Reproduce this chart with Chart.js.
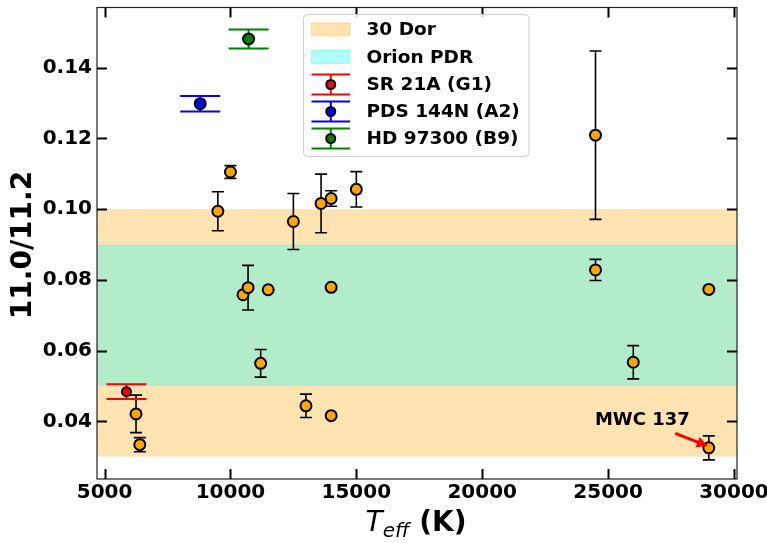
<!DOCTYPE html>
<html>
<head>
<meta charset="utf-8">
<script src="https://cdn.jsdelivr.net/npm/chart.js@4.4.1/dist/chart.umd.min.js"></script>
<style>
  html, body { margin: 0; padding: 0; background: #fff; }
</style>
</head>
<body>
<canvas id="chart" width="767" height="543"></canvas>
<script>
// sample of Herbig stars: effective temperature vs 11.0/11.2 band ratio
const tempK = [6250, 6400, 9500, 10000, 10500, 10700, 11500, 11200, 12500, 13000,
               13600, 14000, 14000, 14000, 15000, 24500, 24500, 26000, 29000, 29000];
const ratio = [0.0421, 0.0334, 0.0994, 0.1105, 0.0758, 0.0778, 0.0772, 0.0564, 0.0965, 0.0444,
               0.1016, 0.1030, 0.0779, 0.0416, 0.1056, 0.1209, 0.0828, 0.0567, 0.0773, 0.0325];
const ratioErr = [0.0053, 0.0020, 0.0055, 0.0018, 0, 0.0063, 0, 0.0039, 0.0079, 0.0033,
                  0.0083, 0.0022, 0, 0, 0.0050, 0.0238, 0.0030, 0.0047, 0, 0.0034];

// highlighted disks
const starNames = ['SR 21A (G1)', 'PDS 144N (A2)', 'HD 97300 (B9)'];
const starTemp = [5870, 8800, 10720];
const starRatio = [0.0484, 0.1298, 0.1481];
const starErr = [0.0021, 0.0022, 0.0027];

// reference ranges
const bandNames = ['30 Dor', 'Orion PDR'];
const bandLow = [0.03, 0.05];
const bandHigh = [0.10, 0.09];

const xTicks = [5000, 10000, 15000, 20000, 25000, 30000];
const yTicks = [0.04, 0.06, 0.08, 0.10, 0.12, 0.14];

// annotation (data coords)
const noteText = 'MWC 137';
const notePos = [26360, 0.0403];
const noteTail = [27670, 0.0366];
const noteHead = [28960, 0.0330];

const FONT = 'DejaVu Sans';
const bandColors = ['rgba(255,165,0,0.3)', 'rgba(0,255,255,0.3)'];
const starColors = ['#ff0000', '#0000ff', '#008000'];

const datasets = [{
  label: 'sample',
  data: tempK.map((x, i) => ({ x, y: ratio[i] })),
  err: ratioErr,
  errColor: '#000', errWidth: 1.6, capHalf: 6,
  backgroundColor: '#ffa500', borderColor: '#000', borderWidth: 2, pointRadius: 5.5
}];
starNames.forEach((name, i) => {
  datasets.push({
    label: name,
    data: [{ x: starTemp[i], y: starRatio[i] }],
    err: [starErr[i]],
    errColor: starColors[i], errWidth: 2, capHalf: 20,
    backgroundColor: starColors[i], borderColor: '#000', borderWidth: 2,
    pointRadius: i === 0 ? 4.5 : 5.5
  });
});

// shaded ranges behind everything
const bandsPlugin = {
  id: 'bands',
  beforeDatasetsDraw(chart) {
    const { ctx, chartArea: a, scales: { y } } = chart;
    ctx.save();
    bandNames.forEach((n, i) => {
      const top = y.getPixelForValue(bandHigh[i]);
      const bot = y.getPixelForValue(bandLow[i]);
      ctx.fillStyle = bandColors[i];
      ctx.fillRect(a.left, top, a.right - a.left, bot - top);
    });
    ctx.restore();
  }
};

// vertical error bars with caps
const errorPlugin = {
  id: 'errors',
  beforeDatasetsDraw(chart) {
    const { ctx, scales: { x, y } } = chart;
    ctx.save();
    chart.data.datasets.forEach(ds => {
      ctx.strokeStyle = ds.errColor;
      ctx.lineWidth = ds.errWidth;
      ds.data.forEach((p, i) => {
        const e = ds.err[i];
        if (!e) return;
        const px = x.getPixelForValue(p.x);
        const y1 = y.getPixelForValue(p.y + e);
        const y2 = y.getPixelForValue(p.y - e);
        ctx.beginPath();
        ctx.moveTo(px, y1); ctx.lineTo(px, y2);
        ctx.moveTo(px - ds.capHalf, y1); ctx.lineTo(px + ds.capHalf, y1);
        ctx.moveTo(px - ds.capHalf, y2); ctx.lineTo(px + ds.capHalf, y2);
        ctx.stroke();
      });
    });
    ctx.restore();
  }
};

// frame, inward ticks, axis titles, legend, annotation
const framePlugin = {
  id: 'frame',
  afterDraw(chart) {
    const { ctx, chartArea: a, scales: { x, y } } = chart;
    ctx.save();
    ctx.strokeStyle = '#222';
    ctx.lineWidth = 1.2;
    ctx.strokeRect(a.left, a.top, a.right - a.left, a.bottom - a.top);

    ctx.strokeStyle = '#000';
    ctx.lineWidth = 2;
    const tl = 10;
    ctx.beginPath();
    xTicks.forEach(v => {
      const px = Math.round(x.getPixelForValue(v)) + 0.5;
      ctx.moveTo(px, a.bottom); ctx.lineTo(px, a.bottom - tl);
      ctx.moveTo(px, a.top); ctx.lineTo(px, a.top + tl);
    });
    yTicks.forEach(v => {
      const py = Math.round(y.getPixelForValue(v)) + 0.5;
      ctx.moveTo(a.left, py); ctx.lineTo(a.left + tl, py);
      ctx.moveTo(a.right, py); ctx.lineTo(a.right - tl, py);
    });
    ctx.stroke();

    // y title
    ctx.fillStyle = '#000';
    ctx.save();
    ctx.translate(23.5, 245);
    ctx.rotate(-Math.PI / 2);
    ctx.font = `bold 28px "${FONT}"`;
    ctx.textAlign = 'center';
    ctx.textBaseline = 'middle';
    ctx.fillText('11.0/11.2', 0, 0);
    ctx.restore();

    // x title: T_eff (K)
    const parts = [
      { t: 'T', f: `italic 28px "${FONT}"`, dy: 0 },
      { t: 'eff', f: `italic 20px "${FONT}"`, dy: 6 },
      { t: ' (K)', f: `bold 28px "${FONT}"`, dy: 0 }
    ];
    let total = 0;
    parts.forEach(p => { ctx.font = p.f; p.w = ctx.measureText(p.t).width; total += p.w; });
    let cx = 416 - total / 2;
    ctx.textAlign = 'left';
    ctx.textBaseline = 'alphabetic';
    parts.forEach(p => { ctx.font = p.f; ctx.fillText(p.t, cx, 531 + p.dy); cx += p.w; });

    // annotation
    ctx.font = `bold 18px "${FONT}"`;
    ctx.textAlign = 'center';
    ctx.textBaseline = 'middle';
    ctx.fillText(noteText, x.getPixelForValue(notePos[0]), y.getPixelForValue(notePos[1]));
    const ax1 = x.getPixelForValue(noteTail[0]), ay1 = y.getPixelForValue(noteTail[1]);
    const ax2 = x.getPixelForValue(noteHead[0]), ay2 = y.getPixelForValue(noteHead[1]);
    const ang = Math.atan2(ay2 - ay1, ax2 - ax1);
    ctx.strokeStyle = '#ff0000';
    ctx.fillStyle = '#ff0000';
    ctx.lineWidth = 3;
    ctx.beginPath();
    ctx.moveTo(ax1, ay1);
    ctx.lineTo(ax2 - 8 * Math.cos(ang), ay2 - 8 * Math.sin(ang));
    ctx.stroke();
    ctx.beginPath();
    ctx.moveTo(ax2, ay2);
    ctx.lineTo(ax2 - 11 * Math.cos(ang) + 5.5 * Math.sin(ang), ay2 - 11 * Math.sin(ang) - 5.5 * Math.cos(ang));
    ctx.lineTo(ax2 - 11 * Math.cos(ang) - 5.5 * Math.sin(ang), ay2 - 11 * Math.sin(ang) + 5.5 * Math.cos(ang));
    ctx.closePath();
    ctx.fill();

    // legend box
    const lx = 303.5, ly = 14.5, lw = 225.5, lh = 142;
    ctx.beginPath();
    ctx.roundRect(lx, ly, lw, lh, 4);
    ctx.fillStyle = 'rgba(255,255,255,0.8)';
    ctx.fill();
    ctx.strokeStyle = '#d0d0d0';
    ctx.lineWidth = 1;
    ctx.stroke();

    const rowY = [29.5, 57, 84.5, 111.5, 138.5];
    const sx = 311.5, sw = 38.5;
    ctx.font = `bold 18.5px "${FONT}"`;
    ctx.textAlign = 'left';
    ctx.textBaseline = 'middle';
    bandNames.forEach((n, i) => {
      ctx.fillStyle = bandColors[i];
      ctx.fillRect(sx, rowY[i] - 6.5, sw, 13);
      ctx.strokeStyle = bandColors[i];
      ctx.strokeRect(sx, rowY[i] - 6.5, sw, 13);
      ctx.fillStyle = '#000';
      ctx.fillText(n, 366.5, rowY[i] + 1);
    });
    starNames.forEach((n, i) => {
      const ry = rowY[i + 2];
      const mx = sx + sw / 2;
      ctx.strokeStyle = starColors[i];
      ctx.lineWidth = 2;
      ctx.beginPath();
      ctx.moveTo(sx, ry - 10); ctx.lineTo(sx + sw, ry - 10);
      ctx.moveTo(sx, ry + 10); ctx.lineTo(sx + sw, ry + 10);
      ctx.moveTo(mx, ry - 10); ctx.lineTo(mx, ry + 10);
      ctx.stroke();
      ctx.beginPath();
      ctx.arc(mx, ry, 4.5, 0, Math.PI * 2);
      ctx.fillStyle = starColors[i];
      ctx.fill();
      ctx.strokeStyle = '#000';
      ctx.lineWidth = 2;
      ctx.stroke();
      ctx.fillStyle = '#000';
      ctx.fillText(n, 366.5, ry + 1);
    });
    ctx.restore();
  }
};

const tickFont = { family: FONT, weight: 'bold', size: 20 };

new Chart(document.getElementById('chart'), {
  type: 'scatter',
  data: { datasets },
  options: {
    responsive: false,
    animation: false,
    layout: { padding: { top: 4, right: 30, left: 0, bottom: 0 } },
    plugins: { legend: { display: false }, tooltip: { enabled: false } },
    scales: {
      x: {
        type: 'linear', min: 4700, max: 30120,
        afterBuildTicks: s => { s.ticks = xTicks.map(v => ({ value: v })); },
        afterFit: s => { s.height = 64; s.paddingLeft = 0; s.paddingRight = 0; },
        grid: { display: false, drawTicks: false },
        border: { display: false },
        ticks: { padding: 2, color: '#000', font: tickFont, maxRotation: 0, autoSkip: false,
                 callback: v => String(v) }
      },
      y: {
        type: 'linear', min: 0.0237, max: 0.157,
        afterBuildTicks: s => { s.ticks = yTicks.map(v => ({ value: v })); },
        afterFit: s => { s.width = 97; s.paddingTop = 0; s.paddingBottom = 0; },
        grid: { display: false, drawTicks: false },
        border: { display: false },
        ticks: { padding: 5, color: '#000', font: tickFont, autoSkip: false,
                 callback: v => v.toFixed(2) }
      }
    }
  },
  plugins: [bandsPlugin, errorPlugin, framePlugin]
});
</script>
</body>
</html>
